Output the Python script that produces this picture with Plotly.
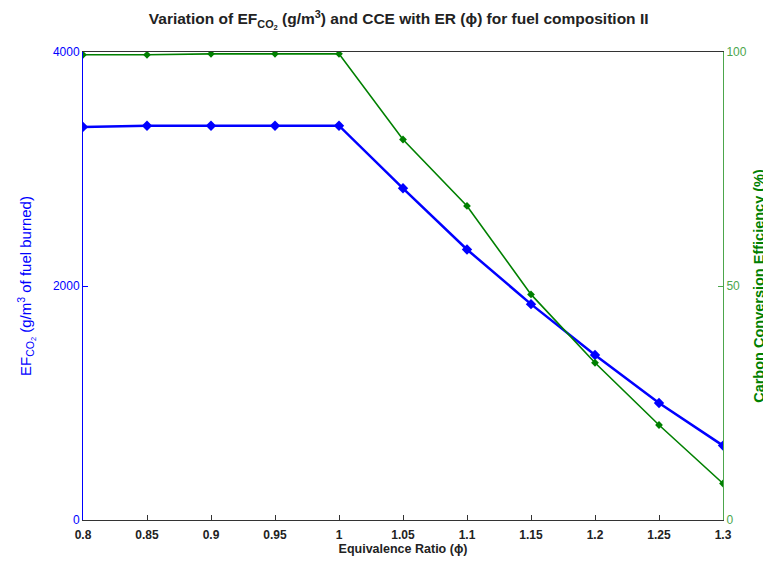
import plotly.graph_objects as go

er = [0.8, 0.85, 0.9, 0.95, 1.0, 1.05, 1.1, 1.15, 1.2, 1.25, 1.3]
ef_co2 = [3360, 3370, 3370, 3370, 3370, 2835, 2312, 1845, 1410, 1000, 636]
cce = [99.4, 99.4, 99.6, 99.6, 99.6, 81.3, 67.1, 48.2, 33.6, 20.3, 7.8]

x_ticks = [0.8, 0.85, 0.9, 0.95, 1.0, 1.05, 1.1, 1.15, 1.2, 1.25, 1.3]
x_tick_labels = ["0.8", "0.85", "0.9", "0.95", "1", "1.05", "1.1", "1.15", "1.2", "1.25", "1.3"]
y1_ticks = [0, 2000, 4000]
y2_ticks = [0, 50, 100]

BLUE = "#0000FF"
GREEN = "#008000"
GREEN_AX = "#4CA64C"
FONT = "Liberation Sans, Arial, sans-serif"

fig = go.Figure()
fig.add_trace(go.Scatter(
    x=er, y=ef_co2, mode="lines+markers", yaxis="y",
    line=dict(color=BLUE, width=2.5),
    marker=dict(symbol="diamond", size=8, color=BLUE),
    showlegend=False,
))
fig.add_trace(go.Scatter(
    x=er, y=cce, mode="lines+markers", yaxis="y2",
    line=dict(color=GREEN, width=1.6),
    marker=dict(symbol="diamond", size=6, color=GREEN),
    showlegend=False,
))

fig.update_layout(
    width=763, height=554,
    margin=dict(l=75, r=48, t=44, b=42),
    paper_bgcolor="white", plot_bgcolor="white",
    font=dict(family=FONT, size=12, color="#222"),
    title=dict(
        text="<b>Variation of EF<sub>CO<sub>2</sub></sub> (g/m<sup>3</sup>) and CCE with ER (ϕ) for fuel composition II</b>",
        x=0.512, xanchor="center", y=0.99, yanchor="top",
        font=dict(size=15.5, family=FONT, color="#222"),
        automargin=False,
    ),
    xaxis=dict(
        range=[0.8, 1.3], tickvals=x_ticks, ticktext=x_tick_labels,
        ticks="inside", ticklen=5, tickcolor="#333",
        showline=True, linecolor="#333", linewidth=1, mirror=True,
        showgrid=False, zeroline=False, automargin=False,
        ticklabelstandoff=4,
        tickfont=dict(size=12, family=FONT, color="#222", weight="bold"),
        title=dict(text="<b>Equivalence Ratio (ϕ)</b>", font=dict(size=12.5, family=FONT, color="#222"), standoff=2),
    ),
    yaxis=dict(
        range=[0, 4000], tickvals=y1_ticks,
        ticks="inside", ticklen=5, tickcolor=BLUE,
        showline=True, linecolor=BLUE, linewidth=1,
        showgrid=False, zeroline=False, automargin=False,
        tickfont=dict(size=12, family=FONT, color=BLUE),
        title=dict(text="EF<sub>CO<sub>2</sub></sub> (g/m<sup>3</sup> of fuel burned)",
                   font=dict(size=15, family=FONT, color=BLUE), standoff=17),
    ),
    yaxis2=dict(
        range=[0, 100], tickvals=y2_ticks, overlaying="y", side="right",
        ticks="inside", ticklen=5, tickcolor=GREEN_AX,
        showline=True, linecolor=GREEN_AX, linewidth=1,
        showgrid=False, zeroline=False, automargin=False,
        tickfont=dict(size=12, family=FONT, color=GREEN_AX),
        title=dict(text="<b>Carbon Conversion Efficiency (%)</b>",
                   font=dict(size=14.5, family=FONT, color=GREEN), standoff=8),
    ),
)

fig.write_html("out.html")
